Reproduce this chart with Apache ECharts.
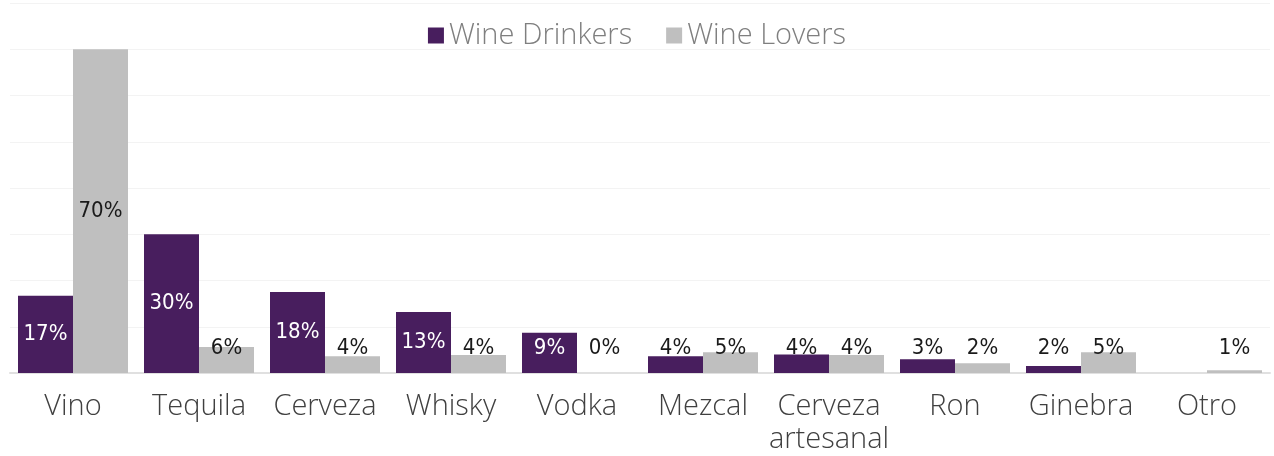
<!DOCTYPE html>
<html>
<head>
<meta charset="utf-8">
<script src="https://cdn.jsdelivr.net/npm/echarts@6/dist/echarts.min.js"></script>
<style>
  html, body { margin: 0; padding: 0; background: #fff; }
  #chart { width: 1274px; height: 456px; }
</style>
</head>
<body>
<div id="chart"></div>
<script>
// datos
var categories = ['Vino', 'Tequila', 'Cerveza', 'Whisky', 'Vodka', 'Mezcal', 'Cerveza\nartesanal', 'Ron', 'Ginebra', 'Otro'];
var drinkers = [16.7, 30, 17.5, 13.2, 8.7, 3.6, 4.0, 3.0, 1.5, null];
var lovers = [70, 5.6, 3.6, 3.9, 0, 4.5, 3.9, 2.1, 4.5, 0.6];

var PURPLE = '#481e5e';
var GRAY = '#bfbfbf';
var labelFont = '"DejaVu Sans Condensed", "Liberation Sans Narrow", "Roboto", sans-serif';
var textFont = '"Open Sans", Lato, sans-serif';

// etiquetas: centradas en la barra, pero nunca mas abajo que ~26px sobre la base
function buildData(values, onDark) {
  return values.map(function (v) {
    if (v == null) return null;
    var small = v < 11.3;
    return {
      value: v,
      label: {
        show: true,
        position: small ? 'insideBottom' : 'inside',
        distance: small ? 14 : 5,
        color: (onDark && v >= 7) ? '#ffffff' : '#1a1a1a',
        fontFamily: labelFont,
        fontSize: 22,
        formatter: function (p) { return Math.round(p.value) + '%'; }
      }
    };
  });
}

var chart = echarts.init(document.getElementById('chart'));
chart.setOption({
  animation: false,
  legend: {
    top: 16,
    left: 'center',
    itemWidth: 16,
    itemHeight: 16,
    itemGap: 34,
    icon: 'rect',
    textStyle: { fontFamily: textFont, fontWeight: 300, fontSize: 29, color: '#7f7f7f' },
    data: ['Wine Drinkers', 'Wine Lovers']
  },
  grid: { left: 10, right: 4, top: 3, bottom: 83, containLabel: false },
  xAxis: {
    type: 'category',
    data: categories,
    axisTick: { show: false },
    axisLine: { lineStyle: { color: '#e0e0e0', width: 2 } },
    axisLabel: {
      interval: 0,
      margin: 17,
      fontFamily: textFont,
      fontWeight: 300,
      fontSize: 29,
      lineHeight: 33,
      color: '#404040'
    }
  },
  yAxis: {
    type: 'value',
    min: 0,
    max: 80,
    interval: 10,
    axisLabel: { show: false },
    axisLine: { show: false },
    axisTick: { show: false },
    splitLine: { lineStyle: { color: '#f3f3f3', width: 1 } }
  },
  series: [
    {
      name: 'Wine Drinkers',
      type: 'bar',
      barGap: '0%',
      barCategoryGap: '12.7%',
      itemStyle: { color: PURPLE },
      data: buildData(drinkers, true)
    },
    {
      name: 'Wine Lovers',
      type: 'bar',
      barGap: '0%',
      barCategoryGap: '12.7%',
      itemStyle: { color: GRAY },
      data: buildData(lovers, false)
    }
  ]
});
</script>
</body>
</html>
